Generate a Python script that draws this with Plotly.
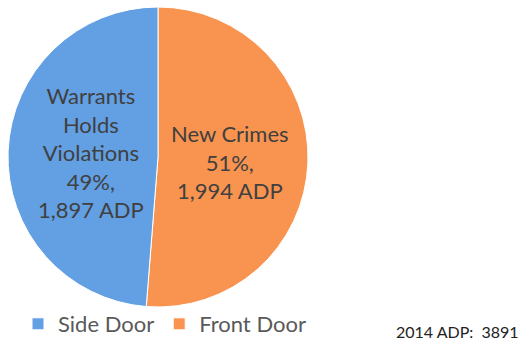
import plotly.graph_objects as go

# Average daily population (ADP) by booking path, 2014
categories = ["Front Door", "Side Door"]
slice_labels = ["New Crimes", "Warrants<br>Holds<br>Violations"]
adp_values = [1994, 1897]
colors = ["#F8944F", "#629FE3"]
total_adp = sum(adp_values)

W, H = 526, 341
font_family = "Lato, 'Open Sans', sans-serif"
text_color = "#404040"

fig = go.Figure(
    go.Pie(
        labels=categories,
        values=adp_values,
        sort=False,
        direction="clockwise",
        rotation=0,
        marker=dict(colors=colors, line=dict(color="white", width=1)),
        textinfo="none",
        hoverinfo="label+value+percent",
        domain=dict(x=[8 / W, 308 / W], y=[1 - 307 / H, 1 - 7 / H]),
    )
)

# in-slice labels built from the values
label_pos = [(230, 162), (91, 152)]
for lab, v, (px, py) in zip(slice_labels, adp_values, label_pos):
    pct = round(100 * v / total_adp)
    fig.add_annotation(
        x=px / W, y=1 - py / H, xref="paper", yref="paper",
        xanchor="center", yanchor="middle",
        text=f"{lab}<br>{pct}%,<br>{v:,} ADP",
        showarrow=False, align="center",
        font=dict(family=font_family, size=22, color=text_color),
    )

fig.add_annotation(
    x=521 / W, y=1 - 331 / H, xref="paper", yref="paper",
    xanchor="right", yanchor="middle",
    text=f"2014 ADP:  {total_adp}",
    showarrow=False,
    font=dict(family=font_family, size=16, color="#222222"),
)

fig.update_layout(
    width=W, height=H,
    margin=dict(l=0, r=0, t=0, b=0, autoexpand=False),
    paper_bgcolor="white",
    plot_bgcolor="white",
    showlegend=True,
    legend=dict(
        orientation="h",
        traceorder="reversed",
        x=18 / W, y=1 - 303 / H, xanchor="left", yanchor="top",
        font=dict(family=font_family, size=22, color="#595959"),
        itemwidth=30,
        bgcolor="rgba(0,0,0,0)",
    ),
)

fig.write_html("out.html")
